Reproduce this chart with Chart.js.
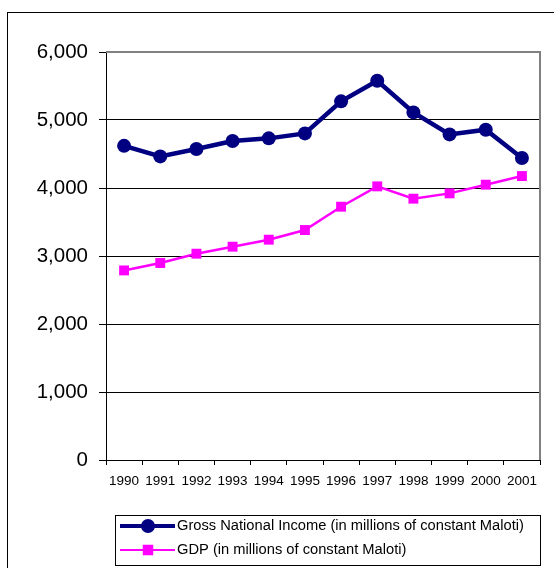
<!DOCTYPE html>
<html>
<head>
<meta charset="utf-8">
<script src="https://cdn.jsdelivr.net/npm/chart.js@4"></script>
<style>
  html, body { margin: 0; padding: 0; background: #fff; }
  #wrap { width: 554px; height: 568px; position: relative; }
</style>
</head>
<body>
<div id="wrap"><canvas id="graph1" width="554" height="568"></canvas></div>
<script>
    var years = ['1990', '1991', '1992', '1993', '1994', '1995', '1996', '1997', '1998', '1999', '2000', '2001'];
    var gniValues = [4620, 4465, 4574, 4691, 4730, 4803, 5274, 5578, 5112, 4788, 4857, 4441];
    var gdpValues = [2788, 2897, 3034, 3137, 3240, 3382, 3725, 4024, 3843, 3921, 4049, 4176];
    var gniLabel = 'Gross National Income (in millions of constant Maloti)';
    var gdpLabel = 'GDP (in millions of constant Maloti)';

    var fontName = '"Liberation Sans", Arial, sans-serif';

// outer frame, grey plot border and the boxed legend
var framePlugin = {
    id: 'frame',
    beforeDatasetsDraw: function(chart) {
        var ctx = chart.ctx;
        var a = chart.chartArea;
        ctx.save();
        ctx.strokeStyle = '#808080';
        ctx.lineWidth = 2;
        ctx.beginPath();
        ctx.moveTo(a.left, a.top);
        ctx.lineTo(a.right, a.top);
        ctx.lineTo(a.right, a.bottom);
        ctx.stroke();
        ctx.restore();
    },
    afterDraw: function(chart) {
        var ctx = chart.ctx;
        ctx.save();
        ctx.strokeStyle = '#000';
        ctx.lineWidth = 1;
        ctx.strokeRect(7.5, 12.5, 700, 700);

        // legend box
        ctx.strokeRect(115.5, 515.5, 425, 50);
        var rows = [526, 550];
        chart.data.datasets.forEach(function(ds, i) {
            var y = rows[i];
            ctx.strokeStyle = ds.borderColor;
            ctx.lineWidth = ds.legendLineWidth;
            ctx.beginPath();
            ctx.moveTo(120, y);
            ctx.lineTo(175, y);
            ctx.stroke();
            Chart.helpers.drawPoint(ctx, {
                pointStyle: ds.pointStyle,
                radius: ds.legendPointRadius,
                borderWidth: 1
            }, 148, y);
            ctx.fillStyle = ds.borderColor;
            ctx.fill();
            ctx.fillStyle = '#000';
            ctx.font = '14.7px ' + fontName;
            ctx.textBaseline = 'middle';
            ctx.textAlign = 'left';
            ctx.fillText(ds.label, 177, y);
        });
        ctx.restore();
    }
};

window.onload = function() {
    var ctx = document.getElementById('graph1').getContext('2d');
    window.incomeChart = new Chart(ctx, {
        type: 'line',
        data: {
            labels: years,
            datasets: [{
                label: gniLabel,
                data: gniValues,
                borderColor: '#000080',
                backgroundColor: '#000080',
                borderWidth: 4.5,
                pointStyle: 'circle',
                pointRadius: 7,
                pointHoverRadius: 7,
                pointBorderWidth: 0,
                legendLineWidth: 4,
                legendPointRadius: 5,
                tension: 0
            }, {
                label: gdpLabel,
                data: gdpValues,
                borderColor: '#FF00FF',
                backgroundColor: '#FF00FF',
                borderWidth: 2.5,
                pointStyle: 'rect',
                pointRadius: 7,
                pointHoverRadius: 7,
                pointBorderWidth: 0,
                legendLineWidth: 2,
                legendPointRadius: 6,
                tension: 0
            }]
        },
        options: {
            responsive: false,
            animation: false,
            layout: {
                padding: { left: 0, right: 14, top: 52, bottom: 0 }
            },
            plugins: {
                legend: { display: false },
                title: { display: false },
                tooltip: { enabled: false }
            },
            scales: {
                x: {
                    offset: true,
                    afterFit: function(scale) { scale.height = 108; },
                    grid: {
                        offset: true,
                        drawOnChartArea: false,
                        tickLength: 5,
                        color: '#000',
                        tickColor: '#000'
                    },
                    border: { color: '#000', width: 1 },
                    ticks: {
                        color: '#000',
                        font: { family: fontName, size: 13.5 },
                        padding: 8,
                        maxRotation: 0,
                        autoSkip: false
                    }
                },
                y: {
                    min: 0,
                    max: 6000,
                    afterFit: function(scale) { scale.width = 106; },
                    grid: {
                        color: function(c) {
                            return c.tick && c.tick.value === 6000 ? '#808080' : '#000';
                        },
                        tickColor: '#000',
                        tickLength: 7,
                    },
                    border: { color: '#000', width: 1 },
                    ticks: {
                        stepSize: 1000,
                        color: '#000',
                        font: { family: fontName, size: 20.5 },
                        padding: 11,
                        callback: function(v) { return v.toLocaleString('en-US'); }
                    }
                }
            }
        },
        plugins: [framePlugin]
    });
};
</script>
</body>
</html>
